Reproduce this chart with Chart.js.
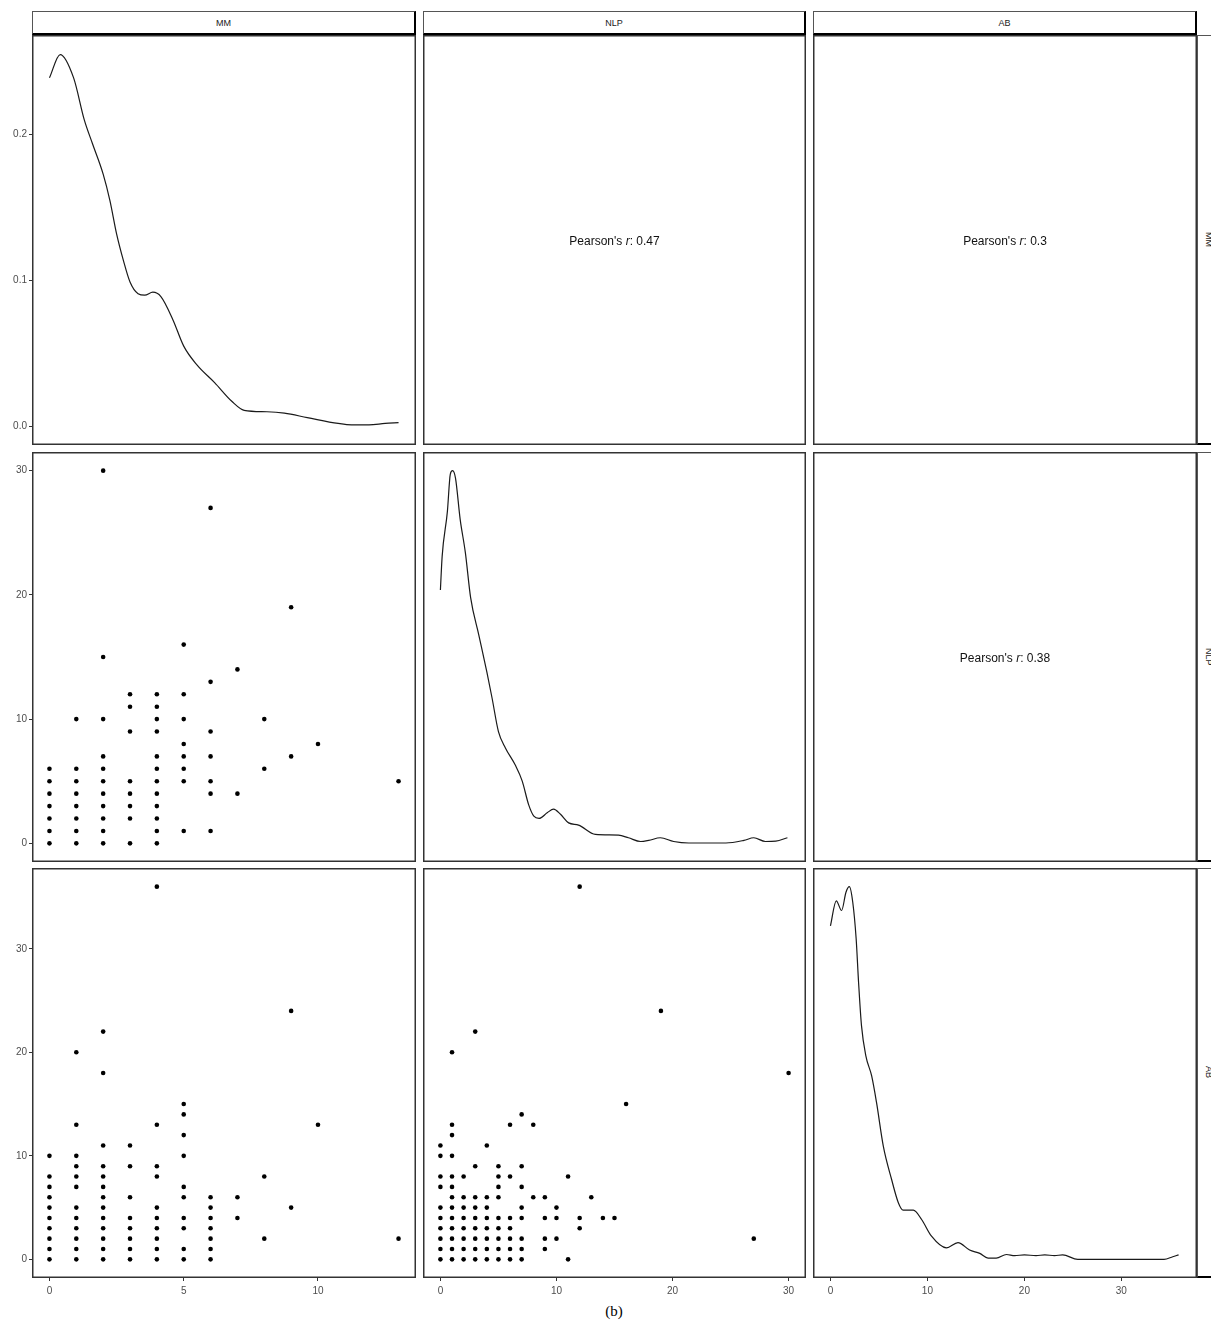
<!DOCTYPE html>
<html>
<head>
<meta charset="utf-8">
<script src="https://cdn.jsdelivr.net/npm/chart.js@4.4.1/dist/chart.umd.min.js"></script>
<style>
  html, body { margin: 0; padding: 0; background: #fff; }
  #wrap { position: relative; width: 1211px; height: 1324px; overflow: hidden; font-family: "Liberation Sans", Arial, sans-serif; }
  #wrap canvas { position: absolute; }
  .strip { position: absolute; box-sizing: border-box; background: #fff; border: 1px solid #555; border-bottom: 2px solid #000;
           font-size: 9px; color: #1a1a1a; display: flex; align-items: center; justify-content: center; }
  .strip.top { border-right: 2px solid #000; }
  .strip.side span { writing-mode: vertical-rl; }
  .corr { position: absolute; font-size: 12px; color: #111; white-space: nowrap; transform: translate(-50%, -50%); }
  #caption { position: absolute; left: 614px; top: 1311px; transform: translate(-50%, -50%); font-family: "Liberation Serif", "Times New Roman", serif; font-size: 15px; color: #000; }
</style>
</head>
<body>
<div id="wrap"><div id="caption">(b)</div></div>
<script>
const vars = ["MM", "NLP", "AB"];

// tick labels
const mmTicks = [0, 5, 10];
const nlpTicks = [0, 10, 20, 30];
const abTicks = [0, 10, 20, 30];
const densTicks = [0, 0.1, 0.2];

// correlations shown in the upper panels (row, col)
const corrCells = [[0, 1], [0, 2], [1, 2]];
const corrValues = ["0.47", "0.3", "0.38"];

// MM vs NLP scatter, grouped by MM value
const mmNlpX = [0, 1, 2, 3, 4, 5, 6, 7, 8, 9, 10, 13];
const mmNlpY = [
    [0, 1, 2, 3, 4, 5, 6],
    [0, 1, 2, 3, 4, 5, 6, 10],
    [0, 1, 2, 3, 4, 5, 6, 7, 10, 15, 30],
    [0, 2, 3, 4, 5, 9, 11, 12],
    [0, 1, 2, 3, 4, 5, 6, 7, 9, 10, 11, 12],
    [1, 5, 6, 7, 8, 10, 12, 16],
    [1, 4, 5, 7, 9, 13, 27],
    [4, 14],
    [6, 10],
    [7, 19],
    [8],
    [5]
];

// MM vs AB scatter, grouped by MM value
const mmAbX = [0, 1, 2, 3, 4, 5, 6, 7, 8, 9, 10, 13];
const mmAbY = [
    [0, 1, 2, 3, 4, 5, 6, 7, 8, 10],
    [0, 1, 2, 3, 4, 5, 7, 8, 9, 10, 13, 20],
    [0, 1, 2, 3, 4, 5, 6, 7, 8, 9, 11, 18, 22],
    [0, 1, 2, 3, 4, 6, 9, 11],
    [0, 1, 2, 3, 4, 5, 8, 9, 13, 36],
    [0, 1, 3, 4, 6, 7, 10, 12, 14, 15],
    [0, 1, 2, 3, 4, 5, 6],
    [4, 6],
    [2, 8],
    [5, 24],
    [13],
    [2]
];

// NLP vs AB scatter, grouped by NLP value
const nlpAbX = [0, 1, 2, 3, 4, 5, 6, 7, 8, 9, 10, 11, 12, 13, 14, 15, 16, 19, 27, 30];
const nlpAbY = [
    [0, 1, 2, 3, 4, 5, 7, 8, 10, 11],
    [0, 1, 2, 3, 4, 5, 6, 7, 8, 10, 12, 13, 20],
    [0, 1, 2, 3, 4, 5, 6, 8],
    [0, 1, 2, 3, 4, 5, 6, 9, 22],
    [0, 1, 2, 3, 4, 5, 6, 11],
    [0, 1, 2, 3, 4, 6, 7, 8, 9],
    [0, 1, 2, 3, 4, 8, 13],
    [0, 1, 2, 4, 5, 7, 9, 14],
    [6, 13],
    [1, 2, 4, 6],
    [2, 4, 5],
    [0, 8],
    [3, 4, 36],
    [6],
    [4],
    [4],
    [15],
    [24],
    [2],
    [18]
];

// density curves on the diagonal
const mmDensX = [0, 0.4, 0.9, 1.3, 1.6, 2.0, 2.25, 2.5, 2.75, 3.0, 3.3, 3.55, 3.85, 4.15, 4.6, 5.0, 5.5, 6.15, 6.8, 7.25, 8.1, 8.75, 9.6, 10.75, 11.25, 11.9, 12.5, 13];
const mmDensY = [0.239, 0.255, 0.239, 0.210, 0.194, 0.173, 0.155, 0.132, 0.114, 0.099, 0.091, 0.090, 0.092, 0.089, 0.073, 0.055, 0.042, 0.030, 0.017, 0.011, 0.010, 0.009, 0.006, 0.002, 0.001, 0.001, 0.002, 0.0025];

const nlpDensX = [0, 0.15, 0.6, 0.85, 1.05, 1.3, 1.7, 2.15, 2.6, 3.3, 4.0, 4.45, 5.0, 5.6, 6.45, 7.05, 7.6, 8.05, 8.5, 9.2, 9.75, 10.35, 11.05, 11.9, 13.35, 15.35, 16.2, 17.25, 17.95, 18.95, 20.1, 21.4, 24.6, 26.15, 27.0, 28.0, 28.9, 29.9];
const nlpDensY = [0.68, 0.77, 0.89, 0.99, 1.0, 0.98, 0.87, 0.78, 0.66, 0.56, 0.46, 0.39, 0.30, 0.256, 0.21, 0.167, 0.104, 0.073, 0.067, 0.082, 0.092, 0.078, 0.055, 0.049, 0.024, 0.022, 0.015, 0.005, 0.008, 0.015, 0.005, 0.001, 0.001, 0.008, 0.015, 0.005, 0.006, 0.015];

const abDensX = [0, 0.6, 1.15, 1.6, 1.95, 2.3, 2.65, 2.9, 3.2, 3.65, 4.25, 4.75, 5.45, 6.3, 7.0, 7.5, 8.55, 9.4, 10.4, 11.95, 13.15, 14.35, 15.4, 16.25, 17.1, 18.15, 19.0, 20.0, 21.2, 22.1, 23.1, 23.95, 25.5, 34.4, 35.3, 35.9];
const abDensY = [0.895, 0.962, 0.936, 0.985, 1.0, 0.958, 0.86, 0.743, 0.627, 0.546, 0.492, 0.421, 0.304, 0.215, 0.152, 0.132, 0.132, 0.107, 0.063, 0.031, 0.045, 0.025, 0.016, 0.0035, 0.0035, 0.013, 0.01, 0.012, 0.01, 0.012, 0.01, 0.012, 0, 0, 0.007, 0.012];

// layout of the panel grid
const colLeft = [32, 423, 813];
const colWidth = [384, 383, 384];
const rowTop = [35, 452, 868];
const rowHeight = 410;
const yAxisW = 32, xAxisH = 26;

// axis limits: data range plus 5% on each side
const varLim = [[-0.65, 13.65], [-1.5, 31.5], [-1.8, 37.8]];
const varTicks = [mmTicks, nlpTicks, abTicks];
const densLim = [[-0.0128, 0.2684], [-0.05, 1.05], [-0.05, 1.05]];

const scatterData = {
    "1,0": [mmNlpX, mmNlpY],
    "2,0": [mmAbX, mmAbY],
    "2,1": [nlpAbX, nlpAbY]
};
const densData = [[mmDensX, mmDensY], [nlpDensX, nlpDensY], [abDensX, abDensY]];

const tickFont = { family: '"Liberation Sans", Arial, sans-serif', size: 10 };
const wrap = document.getElementById('wrap');

// panel border drawn around the chart area
const framePlugin = {
    id: 'frame',
    afterDraw(chart) {
        const a = chart.chartArea, ctx = chart.ctx;
        ctx.save();
        ctx.strokeStyle = '#333';
        ctx.lineWidth = 1.5;
        ctx.strokeRect(a.left + 0.75, a.top + 0.75, a.right - a.left - 1.5, a.bottom - a.top - 1.5);
        ctx.restore();
    }
};

function axis(lim, ticks, show, pos, fmt) {
    return {
        type: 'linear',
        position: pos,
        display: show,
        min: lim[0],
        max: lim[1],
        afterBuildTicks: s => { s.ticks = ticks.map(v => ({ value: v })); },
        afterFit: s => {
            if (!show) return;
            if (pos === 'left') { s.width = yAxisW; s.paddingTop = 0; s.paddingBottom = 0; }
            else { s.height = xAxisH; s.paddingLeft = 0; s.paddingRight = 0; }
        },
        grid: { drawOnChartArea: false, drawTicks: true, tickLength: 3, color: '#333', lineWidth: 1 },
        border: { display: false },
        ticks: {
            color: '#4d4d4d', font: tickFont, padding: pos === 'left' ? 2 : 4,
            autoSkip: false, maxRotation: 0,
            callback: fmt || (v => String(v))
        }
    };
}

function toPoints(xs, ys) {
    return xs.flatMap((x, i) => ys[i].map(y => ({ x: x, y: y })));
}

function makePanel(r, c) {
    const canvas = document.createElement('canvas');
    const left = colLeft[c] - (c === 0 ? yAxisW : 0);
    const w = colWidth[c] + (c === 0 ? yAxisW : 0);
    const h = rowHeight + (r === 2 ? xAxisH : 0);
    canvas.width = w;
    canvas.height = h;
    canvas.style.left = left + 'px';
    canvas.style.top = rowTop[r] + 'px';
    wrap.appendChild(canvas);

    let datasets = [];
    let yLim = varLim[r], yTicks = varTicks[r], yFmt = null;
    if (r === c) {
        const d = densData[r];
        datasets = [{
            type: 'line',
            data: d[0].map((x, i) => ({ x: x, y: d[1][i] })),
            borderColor: '#1a1a1a',
            borderWidth: 1.2,
            pointRadius: 0,
            cubicInterpolationMode: 'monotone',
            fill: false
        }];
        yLim = densLim[r];
        yTicks = densTicks;
        yFmt = v => v.toFixed(1);
    } else if (r > c) {
        const d = scatterData[r + ',' + c];
        datasets = [{
            data: toPoints(d[0], d[1]),
            pointRadius: 2.3,
            pointBackgroundColor: '#000',
            pointBorderWidth: 0
        }];
    }

    return new Chart(canvas, {
        type: 'scatter',
        data: { datasets: datasets },
        options: {
            responsive: false,
            animation: false,
            events: [],
            layout: { padding: 0, autoPadding: false },
            plugins: { legend: { display: false }, tooltip: { enabled: false } },
            scales: {
                x: axis(varLim[c], varTicks[c], r === 2, 'bottom'),
                y: axis(yLim, yTicks, c === 0, 'left', yFmt)
            }
        },
        plugins: [framePlugin]
    });
}

for (let r = 0; r < 3; r++) {
    for (let c = 0; c < 3; c++) makePanel(r, c);
}

// strips on top and on the right
vars.forEach((name, i) => {
    const top = document.createElement('div');
    top.className = 'strip top';
    top.style.left = colLeft[i] + 'px';
    top.style.width = colWidth[i] + 'px';
    top.style.top = '11px';
    top.style.height = '24px';
    top.textContent = name;
    wrap.appendChild(top);

    const side = document.createElement('div');
    side.className = 'strip side';
    side.style.left = (colLeft[2] + colWidth[2]) + 'px';
    side.style.width = '23px';
    side.style.top = rowTop[i] + 'px';
    side.style.height = rowHeight + 'px';
    side.innerHTML = '<span>' + name + '</span>';
    wrap.appendChild(side);
});

// Pearson correlations in the upper triangle
corrCells.forEach((cell, i) => {
    const r = cell[0], c = cell[1];
    const t = document.createElement('div');
    t.className = 'corr';
    t.style.left = (colLeft[c] + colWidth[c] / 2) + 'px';
    t.style.top = (rowTop[r] + rowHeight / 2 + 1) + 'px';
    t.innerHTML = "Pearson's <i>r</i>: " + corrValues[i];
    wrap.appendChild(t);
});
</script>
</body>
</html>
